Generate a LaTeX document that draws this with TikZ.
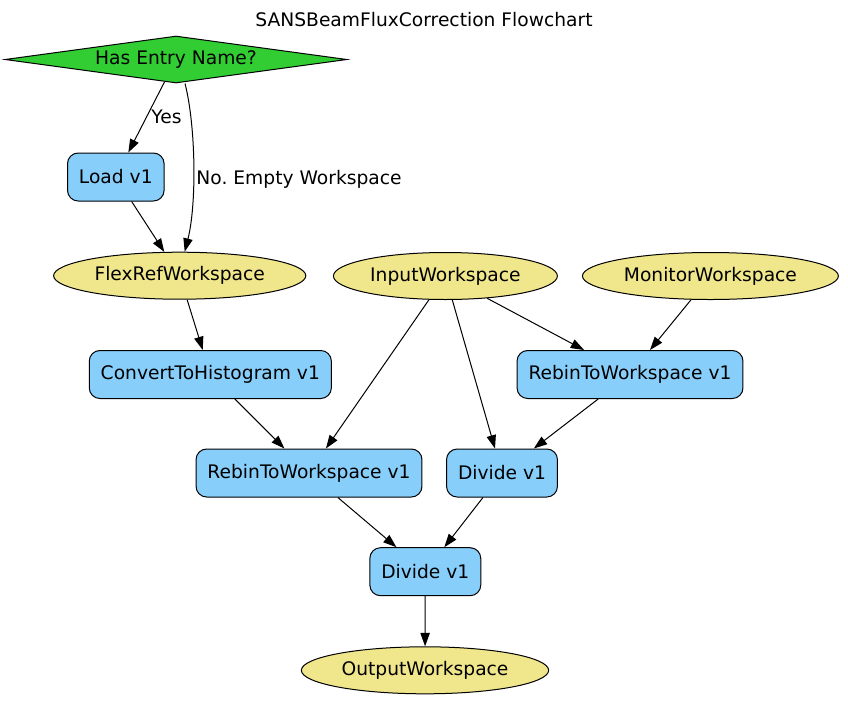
\documentclass[tikz,border=0pt]{standalone}
\usepackage{fontspec}
\setmainfont{DejaVu Sans}
\frenchspacing
\usetikzlibrary{shapes.geometric,arrows.meta}
\definecolor{decgreen}{HTML}{32CD32}
\definecolor{algblue}{HTML}{87CEFA}
\definecolor{wskhaki}{HTML}{F0E68C}
\begin{document}
\begin{tikzpicture}[x=0.75pt,y=-0.75pt,
  every node/.style={font=\fontsize{14pt}{17pt}\selectfont},
  algo/.style={draw,fill=algblue,rounded corners=8pt,line width=0.75pt,
    inner xsep=8.6pt,minimum height=36pt},
  wsp/.style={draw,fill=wskhaki,ellipse,line width=0.75pt,
    inner xsep=3pt,minimum height=35.25pt},
  decide/.style={draw,fill=decgreen,diamond,aspect=7.3,inner sep=1pt,
    line width=0.75pt,minimum width=256.5pt,minimum height=35.25pt},
  flow/.style={line width=0.75pt,-{Triangle[length=10pt,width=7pt]}}]
\useasboundingbox (0,0) rectangle (848,700);
\node (title) at (424,20) {SANSBeamFluxCorrection Flowchart};
\node[decide] (decision) at (176,59.5) {Has Entry Name?};
% workspaces
\foreach \nm/\pos/\txt in {
    flexref/{(179.7,275.7)}/FlexRefWorkspace,
    input/{(445.4,276)}/InputWorkspace,
    monitor/{(710.4,276)}/MonitorWorkspace,
    output/{(425,670.3)}/OutputWorkspace
}{
    \node[wsp] (\nm) at \pos {\txt};
}
% algorithms
\foreach \nm/\pos/\txt in {
    load/{(115.8,177)}/Load v1,
    convert/{(210.3,374.5)}/ConvertToHistogram v1,
    rebinR/{(630,374.5)}/RebinToWorkspace v1,
    rebinL/{(309,473)}/RebinToWorkspace v1,
    divideR/{(502,473)}/Divide v1,
    divideB/{(425.3,571.7)}/Divide v1
}{
    \node[algo] (\nm) at \pos {\txt};
}
\draw[flow] (decision) -- node[right] (yes) {Yes} (load);
\draw[flow] ([xshift=6.75pt]decision.south) .. controls +(11,43) and +(12,-47) ..
    node[right,pos=0.57,inner sep=2pt] (noempty) {No. Empty Workspace}
    ([xshift=3.75pt]flexref.north);
\foreach \a/\b in {load/flexref,flexref/convert,convert/rebinL,
    input/rebinL,input/divideR,input/rebinR,monitor/rebinR,
    rebinR/divideR,rebinL/divideB,divideR/divideB,divideB/output}{
    \draw[flow] (\a) -- (\b);
}
\end{tikzpicture}
\end{document}
